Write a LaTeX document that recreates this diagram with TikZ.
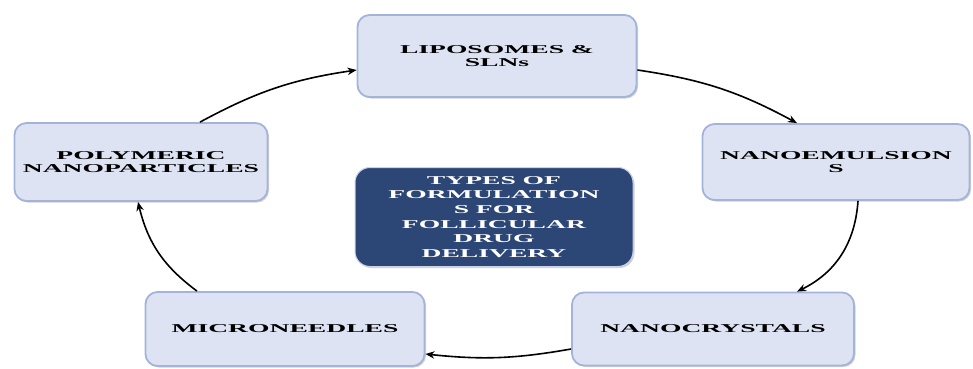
\documentclass[tikz,border=0pt]{standalone}
\usepackage{fontspec}
\setmainfont{Liberation Serif}
\newfontfamily\widefont[FakeStretch=2.3]{Liberation Serif}
\usetikzlibrary{arrows.meta,positioning,shadows}

\definecolor{boxfill}{HTML}{DDE3F3}
\definecolor{boxline}{HTML}{A3B4D8}
\definecolor{hubfill}{HTML}{2C4676}

\begin{document}
\begin{tikzpicture}[
    x=1pt, y=1pt,
    form/.style={draw=boxline, line width=1.8pt, fill=boxfill, rounded corners=12pt,
        align=center, font=\widefont\bfseries\fontsize{12}{12.5}\selectfont,
        drop shadow={shadow xshift=1.5pt, shadow yshift=-1.5pt, fill=black, opacity=0.18}},
    hub/.style={draw=boxline!60, line width=1pt, fill=hubfill, rounded corners=15pt,
        align=center, text=white, font=\widefont\bfseries\fontsize{12}{14.7}\selectfont,
        drop shadow={shadow xshift=1.5pt, shadow yshift=-1.5pt, fill=black, opacity=0.18}},
    arrow/.style={-{Stealth[length=3.2mm,width=2.6mm]}, line width=1.6pt}
]
\useasboundingbox (0,0) rectangle (973,368);

% Formulation boxes
\node[form, minimum width=279pt, minimum height=82pt] (lipo) at (497,312) {LIPOSOMES \&\\SLNs};
\node[form, minimum width=267pt, minimum height=76pt] (emul) at (836,206) {NANOEMULSION\\S};
\node[form, minimum width=282pt, minimum height=73pt] (cryst) at (713,39) {NANOCRYSTALS};
\node[form, minimum width=279pt, minimum height=74pt] (micro) at (285,39) {MICRONEEDLES};
\node[form, minimum width=253pt, minimum height=78pt] (poly) at (141,206) {POLYMERIC\\NANOPARTICLES};

% Centre box
\node[hub, minimum width=278pt, minimum height=99pt] (types) at (494,151)
    {TYPES OF\\FORMULATION\\S FOR\\FOLLICULAR\\DRUG\\DELIVERY};

% Cycle arrows
\draw[arrow] ([xshift=59pt]poly.north) to[bend left=10] ([yshift=-14pt]lipo.west);
\draw[arrow] ([yshift=-14pt]lipo.east) to[bend left=10] ([xshift=-39pt]emul.north);
\draw[arrow] ([xshift=22pt]emul.south) to[bend left=30] ([xshift=84pt]cryst.north);
\draw[arrow] ([yshift=-20pt]cryst.west) to[bend left=8] ([yshift=-25pt]micro.east);
\draw[arrow] ([xshift=-88pt]micro.north) to[bend left=20] ([xshift=-3pt]poly.south);

\end{tikzpicture}
\end{document}
